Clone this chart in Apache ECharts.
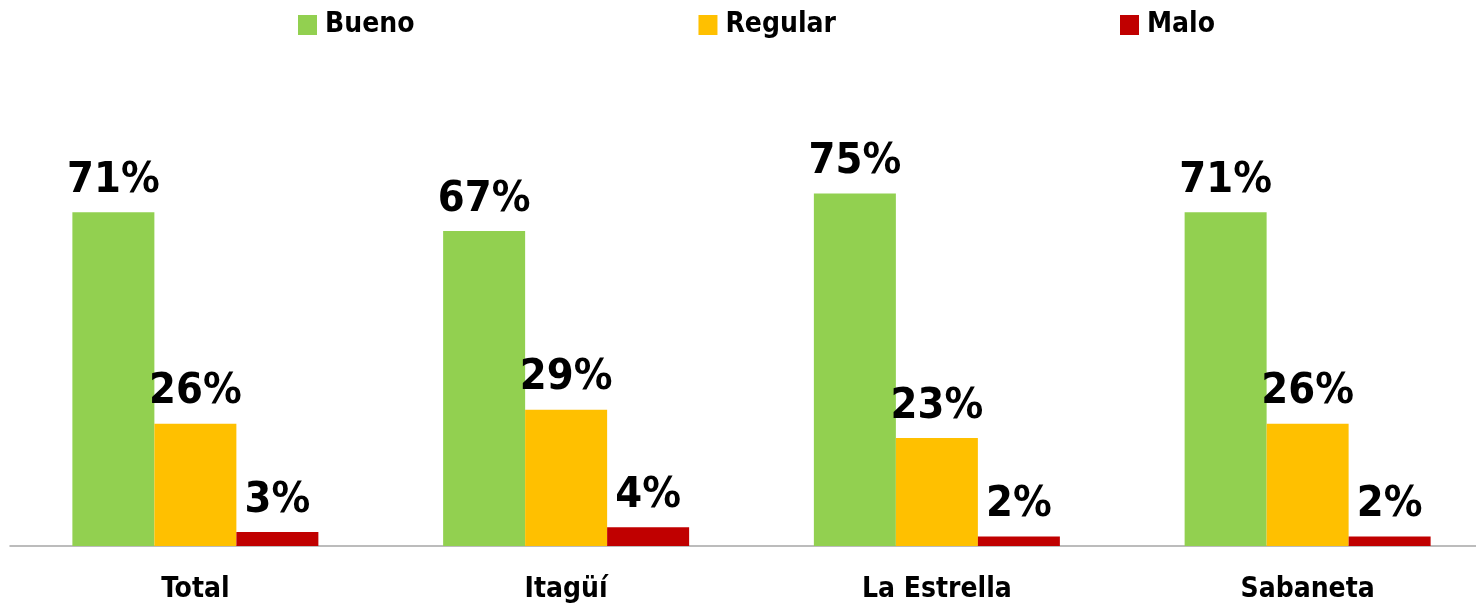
<!DOCTYPE html>
<html><head><meta charset="utf-8">
<script src="https://cdn.jsdelivr.net/npm/echarts@6/dist/echarts.min.js"></script>
<style>html,body{margin:0;padding:0;background:#fff}#c{width:1476px;height:609px}</style>
</head><body><div id="c"></div>
<script>
const categories = ['Total', 'Itagüí', 'La Estrella', 'Sabaneta'];
const seriesNames = ['Bueno', 'Regular', 'Malo'];
const bueno = [71, 67, 75, 71];
const regular = [26, 29, 23, 26];
const malo = [3, 4, 2, 2];
const colors = ['#92D050', '#FFC000', '#C00000'];
const font = '"DejaVu Sans Condensed", "Liberation Sans Narrow", sans-serif';

const chart = echarts.init(document.getElementById('c'));
const mk = (name, data, color) => ({
  name, type: 'bar', data, barWidth: 82, barGap: '0%',
  itemStyle: { color },
  label: { show: true, position: 'top', distance: 10, formatter: '{c}%',
    fontFamily: font, fontWeight: 'bold', fontSize: 43, color: '#000' }
});
chart.setOption({
  animation: false,
  legend: { left: 293, top: 6, itemWidth: 19, itemHeight: 20, itemGap: 284,
    icon: 'rect',
    textStyle: { fontFamily: font, fontWeight: 'bold', fontSize: 28, color: '#000', padding: [0,0,0,3] },
    data: seriesNames },
  grid: { left: 10, right: -17, top: 76, bottom: 63, outerBoundsMode: 'none', containLabel: false },
  xAxis: { type: 'category', data: categories,
    axisLine: { lineStyle: { color: '#A6A6A6', width: 1.5 } },
    axisTick: { show: false },
    axisLabel: { margin: 30, fontFamily: font, fontWeight: 'bold', fontSize: 28, color: '#000' } },
  yAxis: { type: 'value', min: 0, max: 100, show: false, splitLine: { show: false } },
  series: [mk(seriesNames[0], bueno, colors[0]), mk(seriesNames[1], regular, colors[1]), mk(seriesNames[2], malo, colors[2])]
});
</script></body></html>
